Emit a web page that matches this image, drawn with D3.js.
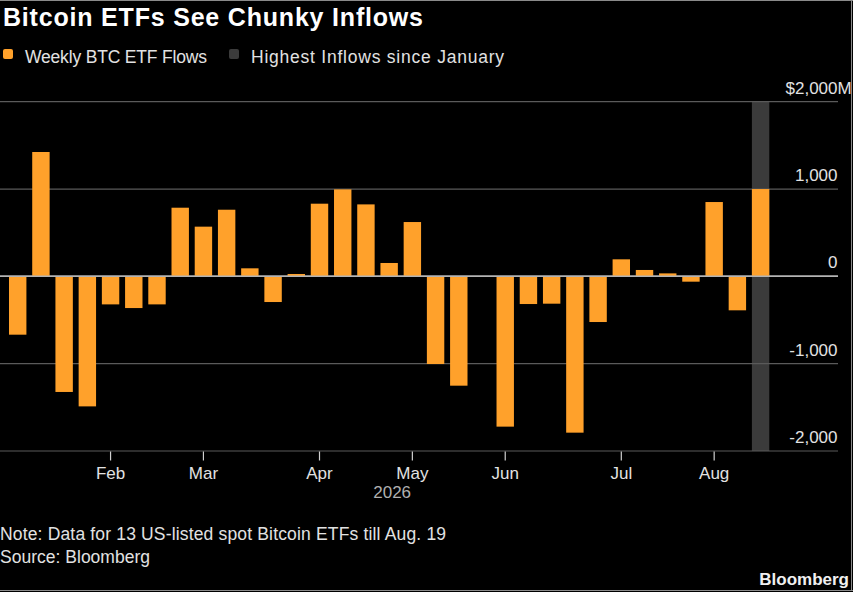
<!DOCTYPE html>
<html>
<head>
<meta charset="utf-8">
<script src="https://cdn.jsdelivr.net/npm/d3@7"></script>
<style>
  html, body { margin: 0; padding: 0; background: #000; }
  svg { display: block; font-family: "Liberation Sans", Arial, sans-serif; }
</style>
</head>
<body>
<svg id="chart" width="853" height="592"></svg>
<script>
// weekly flows, $M (week starting)
const weeks = [
  "2026-01-05", "2026-01-12", "2026-01-19", "2026-01-26", "2026-02-02",
  "2026-02-09", "2026-02-16", "2026-02-23", "2026-03-02", "2026-03-09",
  "2026-03-16", "2026-03-23", "2026-03-30", "2026-04-06", "2026-04-13",
  "2026-04-20", "2026-04-27", "2026-05-04", "2026-05-11", "2026-05-18",
  "2026-05-25", "2026-06-01", "2026-06-08", "2026-06-15", "2026-06-22",
  "2026-06-29", "2026-07-06", "2026-07-13", "2026-07-20", "2026-07-27",
  "2026-08-03", "2026-08-10", "2026-08-17"
];
const flows = [
  -668, 1424, -1324, -1489, -321,
  -363, -321, 786, 569, 763,
  92, -294, 27, 832, 996,
  824, 153, 622, -1004, -1252,
  0, -1721, -317, -313, -1790,
  -523, 195, 73, 34, -61,
  851, -389, 1000
];
const highlightWeek = "2026-08-17";
const yTicks = [-2000, -1000, 0, 1000, 2000];
const yearLabel = "2026";

const title = "Bitcoin ETFs See Chunky Inflows";
const legendItems = [
  { label: "Weekly BTC ETF Flows", color: "#ffa12b", x: 3, width: 182 },
  { label: "Highest Inflows since January", color: "#3b3b3b", x: 229, width: 253 }
];
const note = "Note: Data for 13 US-listed spot Bitcoin ETFs till Aug. 19";
const source = "Source: Bloomberg";

const svg = d3.select("#chart");
const W = 853, H = 592;
const gridRight = 838;

svg.append("rect").attr("width", W).attr("height", H).attr("fill", "#000");

const parse = d3.timeParse("%Y-%m-%d");
const data = weeks.map((w, i) => ({ week: w, date: parse(w), value: flows[i] }));

const x = d3.scaleBand()
  .domain(weeks)
  .range([9, 769.3])
  .paddingInner(0.25)
  .paddingOuter(0);

const y = d3.scaleLinear()
  .domain([-2000, 2000])
  .range([451, 101.7]);

// title
svg.append("text")
  .attr("x", 3)
  .attr("y", 26)
  .attr("fill", "#fff")
  .attr("font-size", 25)
  .attr("font-weight", "bold")
  .attr("textLength", 420)
  .attr("lengthAdjust", "spacing")
  .text(title);

// legend
legendItems.forEach((item) => {
  svg.append("rect")
    .attr("x", item.x)
    .attr("y", 49)
    .attr("width", 10)
    .attr("height", 10)
    .attr("rx", 2)
    .attr("fill", item.color);
  svg.append("text")
    .attr("x", item.x + 22)
    .attr("y", 63)
    .attr("fill", "#e2e2e2")
    .attr("font-size", 17.5)
    .attr("textLength", item.width)
    .attr("lengthAdjust", "spacing")
    .text(item.label);
});

// highlight band
svg.append("rect")
  .attr("x", x(highlightWeek))
  .attr("y", y(2000))
  .attr("width", x.bandwidth())
  .attr("height", y(-2000) - y(2000))
  .attr("fill", "#3b3b3b");

// gridlines
svg.selectAll("gridline")
  .data(yTicks)
  .enter()
  .append("line")
  .attr("x1", 0)
  .attr("x2", gridRight)
  .attr("y1", (d) => y(d))
  .attr("y2", (d) => y(d))
  .attr("stroke", (d) => (d === 0 ? "#b4b4b4" : "#5a5a5a"))
  .attr("stroke-width", (d) => (d === 0 ? 1.5 : 1.2));

// bars
svg.selectAll("bar")
  .data(data.filter((d) => d.value !== 0))
  .enter()
  .append("rect")
  .attr("x", (d) => x(d.week))
  .attr("y", (d) => y(Math.max(0, d.value)))
  .attr("width", x.bandwidth())
  .attr("height", (d) => Math.abs(y(d.value) - y(0)))
  .attr("fill", legendItems[0].color);

// redraw zero line above bars
svg.append("line")
  .attr("x1", 0)
  .attr("x2", gridRight)
  .attr("y1", y(0))
  .attr("y2", y(0))
  .attr("stroke", "#b4b4b4")
  .attr("stroke-width", 1.5);

// y labels
const fmt = d3.format(",");
yTicks.forEach((v) => {
  const t = svg.append("text")
    .attr("x", gridRight - 0.5)
    .attr("y", y(v) - 8)
    .attr("text-anchor", "end")
    .attr("fill", "#e2e2e2")
    .attr("font-size", 17);
  if (v === 2000) {
    t.text("$" + fmt(v));
    svg.append("text")
      .attr("x", gridRight - 0.5)
      .attr("y", y(v) - 8)
      .attr("fill", "#e2e2e2")
      .attr("font-size", 17)
      .text("M");
  } else {
    t.text(v < 0 ? "-" + fmt(-v) : fmt(v));
  }
});

// x ticks: first week of each month
const monthStarts = data.filter((d, i) =>
  i > 0 && d.date.getMonth() !== data[i - 1].date.getMonth());
const xAxis = d3.axisBottom(x)
  .tickValues(monthStarts.map((d) => d.week))
  .tickSize(9)
  .tickPadding(6)
  .tickFormat((w) => d3.timeFormat("%b")(parse(w)));

const gx = svg.append("g")
  .attr("transform", `translate(0,${y(-2000) + 0.5})`)
  .call(xAxis);
gx.select(".domain").remove();
gx.selectAll(".tick line").attr("stroke", "#d0d0d0").attr("stroke-width", 1.2);
gx.selectAll(".tick text")
  .attr("fill", "#e2e2e2")
  .attr("font-size", 17)
  .attr("font-family", "Liberation Sans, Arial, sans-serif");

svg.append("text")
  .attr("x", x(weeks[16]) + x.bandwidth() / 2 + 3)
  .attr("y", 498)
  .attr("text-anchor", "middle")
  .attr("fill", "#b0b0b0")
  .attr("font-size", 17)
  .text(yearLabel);

// note and source
svg.append("text")
  .attr("x", 0)
  .attr("y", 540)
  .attr("fill", "#e2e2e2")
  .attr("font-size", 17.5)
  .attr("textLength", 446)
  .attr("lengthAdjust", "spacing")
  .text(note);
svg.append("text")
  .attr("x", 0)
  .attr("y", 563)
  .attr("fill", "#e2e2e2")
  .attr("font-size", 17.5)
  .attr("textLength", 150)
  .attr("lengthAdjust", "spacing")
  .text(source);

svg.append("text")
  .attr("x", 849)
  .attr("y", 585)
  .attr("text-anchor", "end")
  .attr("fill", "#f0f0f0")
  .attr("font-size", 17)
  .attr("font-weight", "bold")
  .text("Bloomberg");

// frame
svg.append("line").attr("x1", 0).attr("x2", W).attr("y1", 0.5).attr("y2", 0.5)
  .attr("stroke", "#8a8a8a");
svg.append("line").attr("x1", 0).attr("x2", W).attr("y1", 590.5).attr("y2", 590.5)
  .attr("stroke", "#8a8a8a");
svg.append("line").attr("x1", 851.5).attr("x2", 851.5).attr("y1", 0).attr("y2", 591)
  .attr("stroke", "#8a8a8a");
</script>
</body>
</html>
